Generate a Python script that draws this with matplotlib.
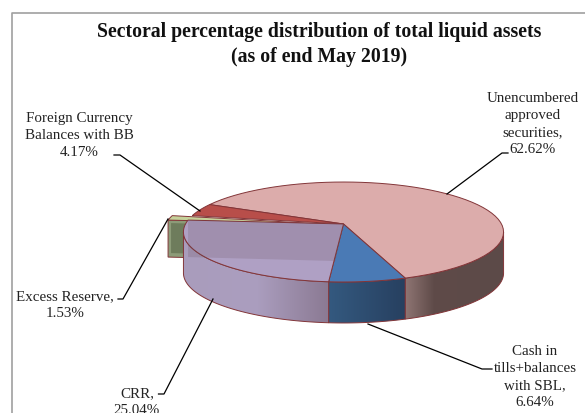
import numpy as np
import matplotlib
matplotlib.use("Agg")
import matplotlib.pyplot as plt
from matplotlib.colors import LinearSegmentedColormap
from matplotlib.patches import Polygon

# Data
noms = ["Unencumbered\napproved\nsecurities,", "Cash in\ntills+balances\nwith SBL,", "CRR,", "Excess Reserve,", "Foreign Currency\nBalances with BB"]
parts = [62.62, 6.64, 25.04, 1.53, 4.17]

titre = "Sectoral percentage distribution of total liquid assets\n(as of end May 2019)"

# Pie geometry, in pixels of the picture
CX, CY = 343.5, 225
R, K, C = 158, 48.7, 0.16   # perspective of the disc
DEPTH = 41
START = 244.8               # angle of first slice, clockwise, 0 = front of the pie
BORD = "#823538"

plt.rcParams["font.family"] = ["Liberation Serif", "DejaVu Serif"]

fig = plt.figure(figsize=(5.85, 4.14), dpi=100)
ax = fig.add_axes([0, 0, 1, 1])


def proj(theta):
    # point of the disc edge for an angle, with a bit of perspective
    t = np.radians(theta)
    u, v = np.sin(t), -np.cos(t)
    return np.column_stack([CX + R * u / (1 + C * v), CY - K * v / (1 + C * v)])


def arc(t0, t1):
    return proj(np.linspace(t0, t1, 60))


def dessus(t0, t1, couleur, dx=0, z=3):
    pts = np.vstack([[CX, CY], arc(t0, t1)]) + [dx, 0]
    ax.add_patch(Polygon(pts, closed=True, fc=couleur, ec=BORD, lw=0.7, zorder=z))


def cote(t0, t1, stops, z=2):
    # side wall of the slice, gradient from left to right
    haut = arc(t0, t1)
    pts = np.vstack([haut, (haut + [0, DEPTH])[::-1]])
    poly = Polygon(pts, closed=True, fc="none", ec=BORD, lw=0.7, zorder=z + 0.1)
    ax.add_patch(poly)
    cmap = LinearSegmentedColormap.from_list("g", stops)
    grad = np.linspace(0, 1, 200).reshape(1, -1)
    im = ax.imshow(grad, cmap=cmap, aspect="auto", zorder=z,
                   extent=[pts[:, 0].min(), pts[:, 0].max(), pts[:, 1].max(), pts[:, 1].min()])
    im.set_clip_path(poly)


# slice limits come from the values
bords = START - np.cumsum([0] + parts) * 3.6
t_unenc = (bords[0], bords[1])
t_cash = (bords[1], bords[2])
t_crr = (bords[2], bords[3])
t_exc = (bords[3], bords[4])
t_fc = (bords[4], bords[5])
EXPLOSE = -20

# pink slice and its side
cote(t_unenc[1], 80.8, [(0, "#8f7573"), (0.29, "#5f4b49"), (1, "#5c4a48")])
dessus(t_unenc[0], t_unenc[1], "#dcacab")

# red slice
dessus(t_fc[0], t_fc[1], "#b84e4a", z=3.2)

# excess slice, pulled out of the pie: radial wall then top
bas = arc(t_exc[0], t_exc[0])[0] + [EXPLOSE, 0]
sommet = np.array([CX + EXPLOSE, CY])
mur = np.array([sommet, bas, bas + [0, 37], sommet + [0, 37]])
ax.add_patch(Polygon(mur, closed=True, fc="#8c9b78", ec=BORD, lw=0.7, zorder=3.3))
ax.add_patch(Polygon(mur + [[0, 3], [3, 3], [3, -4], [0, -4]], closed=True, fc="#6e7c5c", ec="none", zorder=3.35))
dessus(t_exc[0], t_exc[1], "#c5d19a", dx=EXPLOSE, z=3.5)

# cash slice
cote(t_cash[0], t_cash[1], ["#34597f", "#274060"], z=4)
dessus(t_cash[0], t_cash[1], "#4a7ab5", z=4.5)

# CRR slice
cote(t_crr[0], -80.8, ["#a99cbc", "#ab9ebf", "#8b7a93"], z=5)
dessus(t_crr[0], t_crr[1], "#afa0c4", z=5.5)

# the wall of the excess slice shows through the CRR slice
ax.add_patch(Polygon(mur + [[20, 0], [20, 0], [20, 0], [12, 0]], closed=True, fc="#644b56", ec="none", alpha=0.2, zorder=6))

# labels and leader lines
pct = [f"{p:.2f}%" for p in parts]
pos_labels = [(533, 124), (535, 377), (137, 402), (65, 305), (79, 135.5)]
leaders = [
    [(508, 154), (502, 154), (447, 195)],
    [(492, 370), (482, 370), (368, 325)],
    [(158.5, 395), (164, 395), (213, 300)],
    [(118, 300), (123, 300), (168, 220)],
    [(114, 156), (120, 156), (200, 212)],
]
for nom, p, xy, lead in zip(noms, pct, pos_labels, leaders):
    ax.text(xy[0], xy[1], nom + "\n" + p, ha="center", va="center", fontsize=10.8,
            color="#222222", linespacing=1.38, zorder=8)
    lead = np.array(lead)
    ax.plot(lead[:, 0], lead[:, 1], color="black", lw=0.9, zorder=7)

ax.text(319, 44.5, titre, ha="center", va="center", fontsize=14.2, fontweight="bold",
        color="#111111", linespacing=1.38, zorder=8)

# chart frame, cut by the right and bottom of the picture
ax.plot([11.5, 11.5, 585], [414, 13.5, 13.5], color="#a0a0a0", lw=1.2, zorder=1)

ax.set_xlim(0, 585)
ax.set_ylim(414, 0)
ax.axis("off")
fig.savefig("out.png", dpi=100)
